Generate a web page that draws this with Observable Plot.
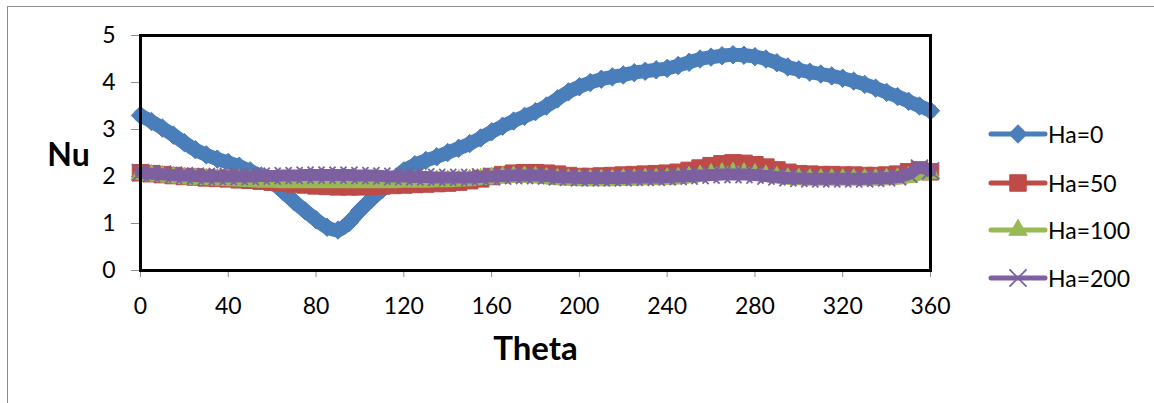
<!DOCTYPE html>
<html><head><meta charset="utf-8">
<script src="https://cdn.jsdelivr.net/npm/d3@7"></script>
<script src="https://cdn.jsdelivr.net/npm/@observablehq/plot@0.6"></script>
<style>
body{margin:0;background:#fff;}
#wrap{position:relative;width:1154px;height:403px;overflow:hidden;font-family:Lato,sans-serif;background:#fff;}
#border{position:absolute;left:7px;top:6px;width:1200px;height:500px;border-left:1px solid #8c8c8c;border-top:1px solid #8c8c8c;}
#chart{position:absolute;left:0;top:0;}
#legend{position:absolute;left:0;top:0;}
.row{position:absolute;display:flex;align-items:center;white-space:nowrap;font-size:23px;color:#000;}
.row svg{display:block;}
</style></head><body>
<div id="wrap"><div id="border"></div><div id="chart"></div><div id="legend"></div></div>
<script>
// ---- data ----
const theta = [0,5,10,15,20,25,30,35,40,45,50,55,60,65,70,75,80,85,90,95,100,105,110,115,120,125,130,135,140,145,150,155,160,165,170,175,180,185,190,195,200,205,210,215,220,225,230,235,240,245,250,255,260,265,270,275,280,285,290,295,300,305,310,315,320,325,330,335,340,345,350,355,360];
const ha0 = [3.30,3.17,3.03,2.88,2.72,2.57,2.46,2.37,2.30,2.22,2.12,2.01,1.88,1.68,1.47,1.27,1.08,0.92,0.86,1.02,1.28,1.51,1.72,1.92,2.12,2.25,2.34,2.42,2.51,2.60,2.70,2.82,2.95,3.07,3.18,3.28,3.38,3.50,3.65,3.80,3.91,4.00,4.07,4.12,4.16,4.21,4.24,4.27,4.30,4.36,4.43,4.50,4.54,4.57,4.59,4.58,4.55,4.50,4.42,4.33,4.27,4.22,4.18,4.14,4.09,4.03,3.96,3.88,3.79,3.70,3.60,3.50,3.40];
const ha50 = [2.08,2.06,2.04,2.02,2.00,1.99,1.97,1.96,1.95,1.93,1.92,1.90,1.88,1.86,1.84,1.82,1.80,1.79,1.78,1.78,1.78,1.79,1.80,1.81,1.82,1.83,1.84,1.85,1.86,1.88,1.91,1.95,2.00,2.04,2.07,2.08,2.08,2.07,2.05,2.02,2.00,2.00,2.01,2.02,2.03,2.04,2.05,2.06,2.07,2.09,2.13,2.18,2.23,2.27,2.29,2.28,2.25,2.20,2.14,2.09,2.06,2.05,2.04,2.04,2.03,2.03,2.02,2.02,2.03,2.05,2.10,2.14,2.10];
const ha100 = [2.05,2.03,2.01,1.99,1.97,1.96,1.95,1.94,1.93,1.92,1.91,1.90,1.90,1.89,1.89,1.89,1.89,1.89,1.89,1.89,1.89,1.89,1.89,1.89,1.90,1.90,1.90,1.91,1.91,1.92,1.93,1.95,1.97,1.99,2.00,2.00,1.99,1.97,1.95,1.94,1.93,1.93,1.93,1.93,1.94,1.94,1.95,1.95,1.96,1.97,1.99,2.02,2.05,2.07,2.08,2.07,2.05,2.02,1.99,1.96,1.95,1.94,1.94,1.94,1.94,1.94,1.94,1.94,1.95,1.96,1.99,2.05,2.07];
const ha200 = [2.08,2.06,2.05,2.03,2.02,2.01,2.00,2.00,2.00,2.00,2.00,2.01,2.01,2.02,2.02,2.03,2.03,2.03,2.03,2.03,2.02,2.02,2.01,2.00,2.00,1.99,1.99,1.98,1.98,1.98,1.98,1.99,2.00,2.01,2.02,2.02,2.02,2.01,1.99,1.98,1.97,1.97,1.97,1.97,1.97,1.98,1.98,1.98,1.99,2.00,2.01,2.02,2.03,2.04,2.04,2.04,2.03,2.01,1.99,1.97,1.96,1.95,1.95,1.95,1.95,1.95,1.95,1.96,1.97,1.99,2.05,2.18,2.12];
const seriesNames = ["Ha=0","Ha=50","Ha=100","Ha=200"];
const xTicks = [0,40,80,120,160,200,240,280,320,360];
const yTicks = [0,1,2,3,4,5];
const xLabel = "Theta";
const yLabel = "Nu";

// ---- styles ----
const styles = [
  {color:"#4A7EBB", symbol:"diamond2", r:8.3, filled:true,  band:14},
  {color:"#BE4B48", symbol:"square",   r:9.3, filled:true,  band:15},
  {color:"#98B954", symbol:"triangle", r:6.8, filled:true,  band:13},
  {color:"#7D60A0", symbol:"times",    r:7.8, filled:false, band:12}
];
const valuesList = [ha0, ha50, ha100, ha200];

const marks = [];
valuesList.forEach((vals, k) => {
  const st = styles[k];
  const data = theta.map((t, i) => ({theta: t, nu: vals[i]}));
  marks.push(Plot.line(data, {x:"theta", y:"nu", stroke: st.color, strokeWidth: st.band, curve: "catmull-rom"}));
  marks.push(Plot.dot(data, {x:"theta", y:"nu", symbol: st.symbol, r: st.r,
    fill: st.filled ? st.color : "none", stroke: st.color, strokeWidth: st.filled ? 1 : 1.8}));
});

const chart = Plot.plot({
  width: 1154, height: 403,
  marginLeft: 140, marginRight: 224, marginTop: 35, marginBottom: 133,
  style: {fontFamily: "Lato, sans-serif", fontSize: "23px", color: "#000", background: "transparent"},
  x: {domain: [0, 360]},
  y: {domain: [0, 5]},
  marks: [
    Plot.axisX({ticks: xTicks, tickSize: 7, tickPadding: 20, stroke: "#8c8c8c", fill: "#000", label: null, fontSize: 23, tickFormat: d3.format("d")}),
    Plot.axisY({ticks: yTicks, tickSize: 9, tickPadding: 16, stroke: "#8c8c8c", fill: "#000", label: null, fontSize: 23, tickFormat: d3.format("d")}),
    ...marks,
    Plot.frame({stroke: "#000", strokeWidth: 3}),
    Plot.text([xLabel], {frameAnchor: "bottom", dy: 89, fontSize: 33, fontWeight: "bold", fill: "#000", textAnchor: "middle"}),
    Plot.text([yLabel], {frameAnchor: "left", dx: -72, dy: 3, fontSize: 32, fontWeight: "bold", fill: "#000", textAnchor: "middle"})
  ]
});
document.getElementById("chart").appendChild(chart);

// ---- legend ----
const legend = document.getElementById("legend");
const rowY = [133, 182, 229, 277];
const d3Sym = {diamond2: d3.symbolDiamond2, square: d3.symbolSquare, triangle: d3.symbolTriangle, times: d3.symbolTimes};
seriesNames.forEach((name, k) => {
  const st = styles[k];
  const row = document.createElement("div");
  row.className = "row";
  row.style.left = "988px";
  row.style.top = (rowY[k] - 13) + "px";
  const path = d3.symbol(d3Sym[st.symbol], st.r * st.r * Math.PI)();
  row.innerHTML = `<svg width="60" height="26" viewBox="0 0 60 26">
    <line x1="3" y1="13" x2="57" y2="13" stroke="${st.color}" stroke-width="5" stroke-linecap="round"/>
    <path transform="translate(30,13)" d="${path}" fill="${st.filled ? st.color : "none"}" stroke="${st.color}" stroke-width="${st.filled ? 1 : 1.8}"/>
  </svg><span>${name}</span>`;
  legend.appendChild(row);
});
</script>
</body></html>
